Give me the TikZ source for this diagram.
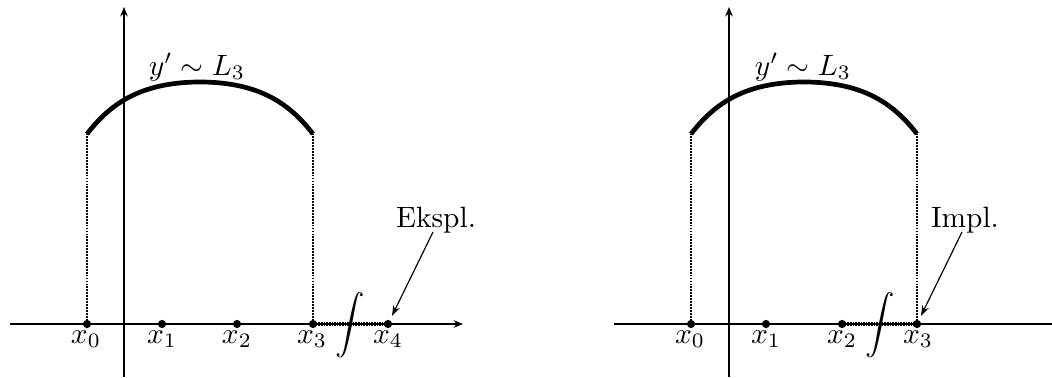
\documentclass[tikz,border=0pt]{standalone}
\usetikzlibrary{arrows.meta}
\begin{document}
\begin{tikzpicture}[x=0.34pt,y=-0.34pt,
  axisline/.style={line width=0.7pt,-{Stealth[length=3.2pt,width=2.6pt]}},
  bigcurve/.style={line width=1.6pt},
  vdot/.style={line width=0.6pt,dash pattern=on 0.6pt off 0.4pt},
  segdot/.style={line width=1.1pt,dash pattern=on 0.55pt off 0.35pt},
  ptdot/.style={circle,fill=black,inner sep=0pt,minimum size=2.8pt},
  xlbl/.style={anchor=base,inner sep=0pt},
  notearrow/.style={line width=0.4pt,-{Stealth[length=3.5pt,width=2.4pt]},shorten >=1.5pt},
  intsign/.style={inner sep=0pt}]
\useasboundingbox (0,0) rectangle (1052,377);

% ---------- left panel ----------
\coordinate (LxS) at (10,324);
\coordinate (LxE) at (463,324);
\coordinate (LyS) at (124,377);
\coordinate (LyE) at (124,7);
\draw[axisline] (LxS) -- (LxE);
\draw[axisline] (LyS) -- (LyE);
\coordinate (LcA) at (87,133.5);
\coordinate (LcB) at (313,133.5);
\draw[bigcurve] plot[domain=-1.13:1.13,samples=80] ({200+100*\x},{82+23.27*\x*\x+13.67*\x*\x*\x*\x});
\node[ptdot] (L0) at (87,324) {};
\node[ptdot] (L1) at (162,324) {};
\node[ptdot] (L2) at (237,324) {};
\node[ptdot] (L3) at (313,324) {};
\node[ptdot] (L4) at (388,324) {};
\draw[vdot] (LcA) -- (L0.center);
\draw[vdot] (LcB) -- (L3.center);
\draw[segdot] (L3.center) -- (L4.center);
\node[xlbl] (Lx0) at (86,343) {$x_0$};
\node[xlbl] (Lx1) at (162,343) {$x_1$};
\node[xlbl] (Lx2) at (237,343) {$x_2$};
\node[xlbl] (Lx3) at (312,343) {$x_3$};
\node[xlbl] (Lx4) at (388,343) {$x_4$};
\node[intsign] (Lint) at (350,325) {$\displaystyle\int$};
\node[xlbl] (Lfn) at (197,75) {$y'\sim L_3$};
\node[xlbl] (Lek) at (436,227) {Ekspl.};
\coordinate (LekA) at (433,232);
\draw[notearrow] (LekA) -- (L4);

% ---------- right panel ----------
\begin{scope}[shift={(604,0)}]
\coordinate (RxS) at (10,324);
\coordinate (RxE) at (463,324);
\coordinate (RyS) at (125,377);
\coordinate (RyE) at (125,7);
\draw[axisline] (RxS) -- (RxE);
\draw[axisline] (RyS) -- (RyE);
\coordinate (RcA) at (87,133.5);
\coordinate (RcB) at (313,133.5);
\draw[bigcurve] plot[domain=-1.13:1.13,samples=80] ({200+100*\x},{82+23.27*\x*\x+13.67*\x*\x*\x*\x});
\node[ptdot] (R0) at (87,324) {};
\node[ptdot] (R1) at (162,324) {};
\node[ptdot] (R2) at (238,324) {};
\node[ptdot] (R3) at (313,324) {};
\draw[vdot] (RcA) -- (R0.center);
\draw[vdot] (RcB) -- (R3.center);
\draw[segdot] (R2.center) -- (R3.center);
\node[xlbl] (Rx0) at (86,343) {$x_0$};
\node[xlbl] (Rx1) at (162,343) {$x_1$};
\node[xlbl] (Rx2) at (238,343) {$x_2$};
\node[xlbl] (Rx3) at (314,343) {$x_3$};
\node[intsign] (Rint) at (276,325) {$\displaystyle\int$};
\node[xlbl] (Rfn) at (199,75) {$y'\sim L_3$};
\node[xlbl] (Rim) at (361,227) {Impl.};
\coordinate (RimA) at (358,232);
\draw[notearrow] (RimA) -- (R3);
\end{scope}
\end{tikzpicture}
\end{document}
